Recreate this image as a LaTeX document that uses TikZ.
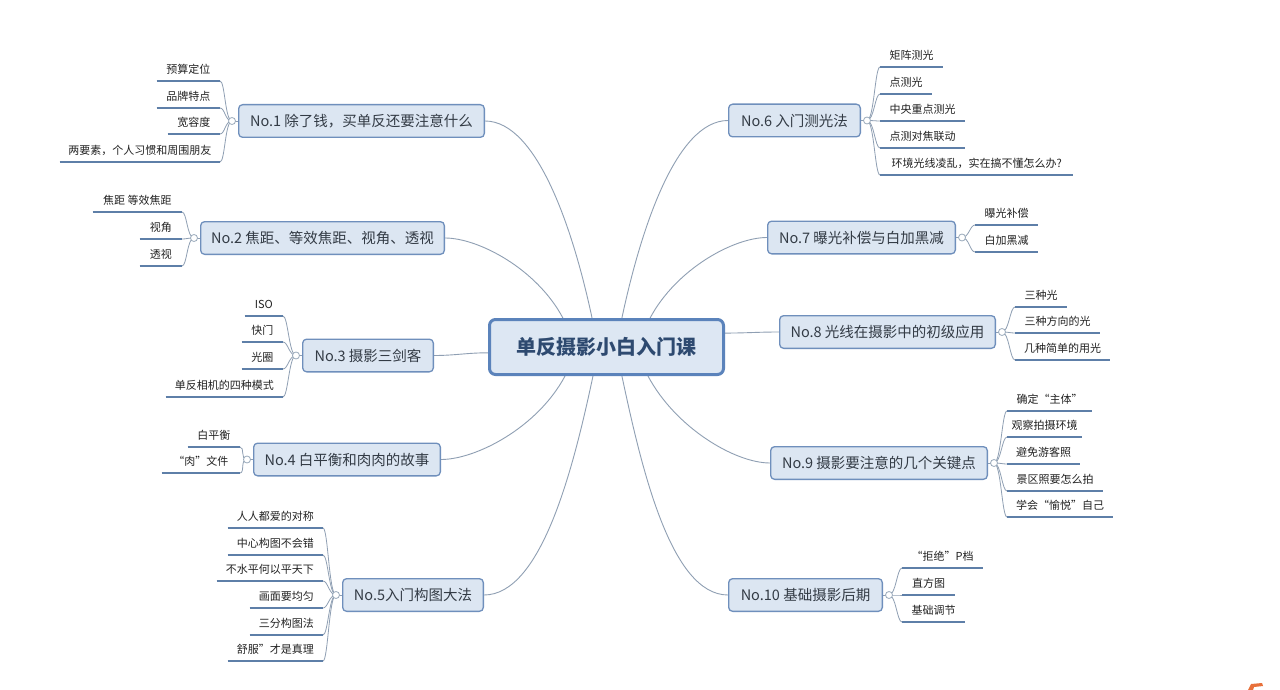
\documentclass[tikz,border=0pt]{standalone}
\usepackage{fontspec}
\setmainfont{Noto Sans CJK SC}
\usetikzlibrary{calc,backgrounds}
\definecolor{boxfill}{HTML}{DCE6F2}
\definecolor{boxdraw}{HTML}{6F8FBC}
\definecolor{cenfill}{HTML}{DDE7F3}
\definecolor{cendraw}{HTML}{5B83BB}
\definecolor{centxt}{HTML}{2E4A70}
\definecolor{brtxt}{HTML}{333B45}
\definecolor{leaftxt}{HTML}{222222}
\definecolor{conncol}{HTML}{8F9FB3}
\definecolor{ulcol}{HTML}{5E7FA8}
\definecolor{dotcol}{HTML}{9AAABB}
\definecolor{wmark}{HTML}{E8703A}
\begin{document}
\begin{tikzpicture}[x=1pt,y=1pt,
  central/.style={draw=cendraw, fill=cenfill, line width=3pt, rounded corners=6pt, minimum width=234pt, minimum height=55pt, inner sep=0pt, font=\fontsize{20}{24}\selectfont\bfseries, text=centxt},
  branch/.style={draw=boxdraw, fill=boxfill, line width=1.3pt, rounded corners=4pt, minimum height=32.7pt, inner sep=0pt, font=\fontsize{14.5}{17}\selectfont, text=brtxt},
  uline/.style={draw=ulcol, line width=2.4pt},
  leaf/.style={inner sep=0pt, minimum height=22pt, text height=8.5pt, text depth=2pt, font=\fontsize{11}{13}\selectfont, text=leaftxt, append after command={(\tikzlastnode.south west) edge[uline] (\tikzlastnode.south east)}},
  leafL/.style={leaf, anchor=south east},
  leafR/.style={leaf, anchor=south west},
  dot/.style={circle, draw=dotcol, fill=white, line width=0.8pt, minimum size=7pt, inner sep=0pt},
  conn/.style={draw=conncol, line width=0.9pt},
  sub/.style={draw=conncol, line width=0.8pt},
]
\useasboundingbox (0,0) rectangle (1280,-690);
\begin{scope}[on background layer]
  \fill[white] (0,0) rectangle (1280,-690);
\end{scope}

% central
\node[central] (c) at (606.5,-347) {单反摄影小白入门课};

% branches
\node[branch, minimum width=245.7pt] (b1) at (361.5,-121) {No.1 除了钱，买单反还要注意什么};
\node[branch, minimum width=243.7pt] (b2) at (322.5,-238) {No.2 焦距、等效焦距、视角、透视};
\node[branch, minimum width=130.7pt] (b3) at (368,-355.5) {No.3 摄影三剑客};
\node[branch, minimum width=186.7pt] (b4) at (347,-459.5) {No.4 白平衡和肉肉的故事};
\node[branch, minimum width=140.7pt] (b5) at (413,-595) {No.5入门构图大法};
\node[branch, minimum width=131.7pt] (b6) at (794.5,-120.5) {No.6 入门测光法};
\node[branch, minimum width=187.7pt] (b7) at (861.5,-237.5) {No.7 曝光补偿与白加黑减};
\node[branch, minimum width=215.7pt] (b8) at (887.5,-332) {No.8 光线在摄影中的初级应用};
\node[branch, minimum width=216.7pt] (b9) at (879,-463) {No.9 摄影要注意的几个关键点};
\node[branch, minimum width=153.7pt] (b10) at (805.5,-595) {No.10 基础摄影后期};

% collapse dots
\node[dot] (d1) at ($(b1.west)+(-6,0)$) {};
\node[dot] (d2) at ($(b2.west)+(-6,0)$) {};
\node[dot] (d3) at ($(b3.west)+(-6,0)$) {};
\node[dot] (d4) at ($(b4.west)+(-6,0)$) {};
\node[dot] (d5) at ($(b5.west)+(-6,0)$) {};
\node[dot] (d6) at ($(b6.east)+(6,0)$) {};
\node[dot] (d7) at ($(b7.east)+(6,0)$) {};
\node[dot] (d8) at ($(b8.east)+(6,0)$) {};
\node[dot] (d9) at ($(b9.east)+(6,0)$) {};
\node[dot] (d10) at ($(b10.east)+(6,0)$) {};

% leaves left
\node[leafL, minimum width=63pt] (l11) at (220,-81) {预算定位};
\node[leafL, minimum width=63pt] (l12) at (220,-108) {品牌特点};
\node[leafL, minimum width=52pt] (l13) at (220,-134) {宽容度};
\node[leafL, minimum width=160pt] (l14) at (220,-162) {两要素，个人习惯和周围朋友};
\node[leafL, minimum width=89pt] (l21) at (182,-212) {焦距 等效焦距};
\node[leafL, minimum width=42pt] (l22) at (182,-239) {视角};
\node[leafL, minimum width=42pt] (l23) at (182,-266) {透视};
\node[leafL, minimum width=38pt] (l31) at (283,-316) {ISO};
\node[leafL, minimum width=41pt] (l32) at (283,-342) {快门};
\node[leafL, minimum width=41pt] (l33) at (283,-369) {光圈};
\node[leafL, minimum width=117pt] (l34) at (283,-397) {单反相机的四种模式};
\node[leafL, minimum width=52pt] (l41) at (240,-447) {白平衡};
\node[leafL, minimum width=78pt] (l42) at (240,-473) {“肉”文件};
\node[leafL, minimum width=95pt] (l51) at (323,-528) {人人都爱的对称};
\node[leafL, minimum width=95pt] (l52) at (323,-555) {中心构图不会错};
\node[leafL, minimum width=106pt] (l53) at (323,-581) {不水平何以平天下};
\node[leafL, minimum width=73pt] (l54) at (323,-608) {画面要均匀};
\node[leafL, minimum width=73pt] (l55) at (323,-635) {三分构图法};
\node[leafL, minimum width=95pt] (l56) at (323,-661) {舒服”才是真理};

% leaves right
\node[leafR, minimum width=63pt] (l61) at (880,-67) {矩阵测光};
\node[leafR, minimum width=52pt] (l62) at (880,-94) {点测光};
\node[leafR, minimum width=85pt] (l63) at (880,-121) {中央重点测光};
\node[leafR, minimum width=85pt] (l64) at (880,-148) {点测对焦联动};
\node[leafR, minimum width=193pt] (l65) at (880,-175) {环境光线凌乱，实在搞不懂怎么办?};
\node[leafR, minimum width=63pt] (l71) at (975,-225) {曝光补偿};
\node[leafR, minimum width=63pt] (l72) at (975,-252) {白加黑减};
\node[leafR, minimum width=52pt] (l81) at (1015,-307) {三种光};
\node[leafR, minimum width=85pt] (l82) at (1015,-333) {三种方向的光};
\node[leafR, minimum width=95pt] (l83) at (1015,-360) {几种简单的用光};
\node[leafR, minimum width=85pt] (l91) at (1007,-411) {确定“主体”};
\node[leafR, minimum width=75pt] (l92) at (1007,-437) {观察拍摄环境};
\node[leafR, minimum width=73pt] (l93) at (1007,-464) {避免游客照};
\node[leafR, minimum width=96pt] (l94) at (1007,-491) {景区照要怎么拍};
\node[leafR, minimum width=106pt] (l95) at (1007,-517) {学会“愉悦”自己};
\node[leafR, minimum width=81pt] (l101) at (902,-568) {“拒绝”P档};
\node[leafR, minimum width=53pt] (l102) at (902,-595) {直方图};
\node[leafR, minimum width=63pt] (l103) at (902,-622) {基础调节};

\begin{scope}[on background layer]
  % main connectors
  \draw[conn] ($(c.north west)!0.439!(c.north east)$) to[out=102,in=0,in looseness=0.6] (b1.east);
  \draw[conn] ($(c.north west)!0.316!(c.north east)$) to[out=118,in=0,in looseness=0.6] (b2.east);
  \draw[conn] ($(c.north west)!0.6!(c.south west)$) to[out=180,in=0] (b3.east);
  \draw[conn] ($(c.south west)!0.325!(c.south east)$) to[out=-118,in=0,in looseness=0.6] (b4.east);
  \draw[conn] ($(c.south west)!0.443!(c.south east)$) to[out=-102,in=0,in looseness=0.6] (b5.east);
  \draw[conn] ($(c.north west)!0.565!(c.north east)$) to[out=78,in=180,in looseness=0.6] (b6.west);
  \draw[conn] ($(c.north west)!0.684!(c.north east)$) to[out=62,in=180,in looseness=0.6] (b7.west);
  \draw[conn] ($(c.north east)!0.26!(c.south east)$) to[out=0,in=180] (b8.west);
  \draw[conn] ($(c.south west)!0.675!(c.south east)$) to[out=-62,in=180,in looseness=0.6] (b9.west);
  \draw[conn] ($(c.south west)!0.565!(c.south east)$) to[out=-78,in=180,in looseness=0.6] (b10.west);

  % box to dot
  \foreach \i in {1,...,5} \draw[sub] (b\i.west) -- (d\i.center);
  \foreach \i in {6,...,10} \draw[sub] (b\i.east) -- (d\i.center);

  % sub connectors left
  \foreach \d/\l in {d1/l11,d1/l12,d1/l13,d1/l14,d2/l21,d2/l22,d2/l23,d3/l31,d3/l32,d3/l33,d3/l34,d4/l41,d4/l42,d5/l51,d5/l52,d5/l53,d5/l54,d5/l55,d5/l56}
    \draw[sub] (\d.center) .. controls +(-7,0) and +(5,0) .. (\l.south east);
  % sub connectors right
  \foreach \d/\l in {d6/l61,d6/l62,d6/l63,d6/l64,d6/l65,d7/l71,d7/l72,d8/l81,d8/l82,d8/l83,d9/l91,d9/l92,d9/l93,d9/l94,d9/l95,d10/l101,d10/l102,d10/l103}
    \draw[sub] (\d.center) .. controls +(7,0) and +(-5,0) .. (\l.south west);
\end{scope}

% watermark fragment
\fill[wmark] (1248,-690) -- (1251,-684) -- (1262,-683) -- (1263,-686) -- (1254,-687) -- (1253,-690) -- cycle;
\end{tikzpicture}
\end{document}
